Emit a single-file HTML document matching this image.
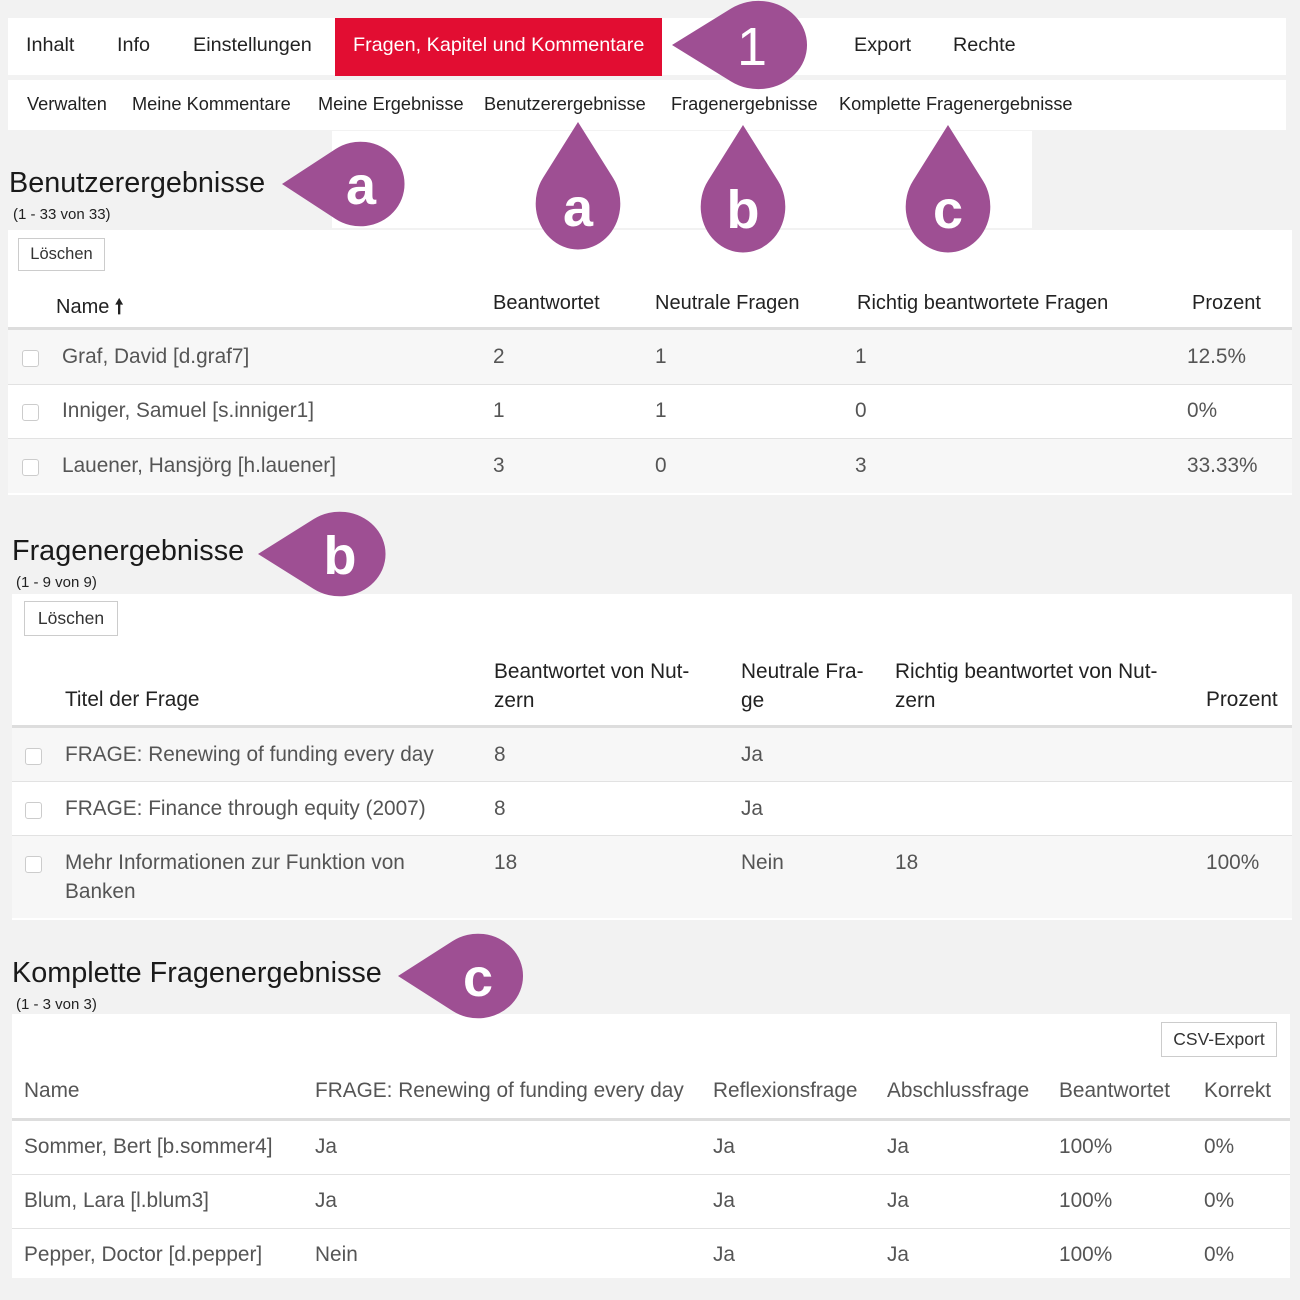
<!DOCTYPE html>
<html><head><meta charset="utf-8"><style>
body{margin:0;width:1300px;height:1300px;background:#f2f2f2;position:relative;overflow:hidden;font-family:"Liberation Sans",sans-serif;color:#222}
.a{position:absolute;white-space:nowrap}
.w{position:absolute;background:#fff}
.n{font-size:19.8px;color:#222}
.s{font-size:18.2px;color:#222}
.h{font-size:28.8px;color:#1a1a1a}
.c{font-size:15px;color:#222}
.th{font-size:20px;color:#222}
.td{font-size:20.8px;color:#555}
.btn{position:absolute;border:1px solid #ccc;background:#fff;font-size:16.5px;color:#333;box-sizing:border-box;text-align:center}
.cb{position:absolute;width:15px;height:15px;border:1px solid #ccc;border-radius:3px;background:#fff}
.l{position:absolute;height:1px;background:#e2e2e2}
.hl{position:absolute;height:3px;background:#ddd}
</style></head><body>
<div class="w" style="left:8px;top:18px;width:1278px;height:57px"></div>
<div class="a" style="left:335px;top:18px;width:327px;height:58px;background:#e20d32"></div>
<div class="a n" style="left:26px;top:34px">Inhalt</div>
<div class="a n" style="left:117px;top:34px">Info</div>
<div class="a n" style="left:193px;top:34px">Einstellungen</div>
<div class="a n" style="left:353px;top:34px;color:#fff">Fragen, Kapitel und Kommentare</div>
<div class="a n" style="left:795px;top:34px">tt</div>
<div class="a n" style="left:854px;top:34px">Export</div>
<div class="a n" style="left:953px;top:34px">Rechte</div>
<div class="w" style="left:8px;top:80px;width:1278px;height:50px"></div>
<div class="a s" style="left:27px;top:94px">Verwalten</div>
<div class="a s" style="left:132px;top:94px">Meine Kommentare</div>
<div class="a s" style="left:318px;top:94px">Meine Ergebnisse</div>
<div class="a s" style="left:484px;top:94px">Benutzerergebnisse</div>
<div class="a s" style="left:671px;top:94px">Fragenergebnisse</div>
<div class="a s" style="left:839px;top:94px">Komplette Fragenergebnisse</div>
<div class="w" style="left:332px;top:131px;width:700px;height:97px"></div>

<!-- Section 1 -->
<div class="a h" style="left:9px;top:167px">Benutzerergebnisse</div>
<div class="a c" style="left:13px;top:206px">(1 - 33 von 33)</div>
<div class="w" style="left:8px;top:230px;width:1284px;height:265px"></div>
<div class="btn" style="left:18px;top:238px;width:87px;height:33px;line-height:31px">Löschen</div>
<div class="a th" style="left:56px;top:292px">Name <b>🠕</b></div>
<div class="a th" style="left:493px;top:292px">Beantwortet</div>
<div class="a th" style="left:655px;top:292px">Neutrale Fragen</div>
<div class="a th" style="left:857px;top:292px">Richtig beantwortete Fragen</div>
<div class="a th" style="left:1192px;top:292px">Prozent</div>
<div class="hl" style="left:8px;top:327px;width:1284px"></div>
<div class="a" style="left:8px;top:330px;width:1284px;height:55px;background:#f7f7f7"></div>
<div class="l" style="left:8px;top:384px;width:1284px"></div>
<div class="l" style="left:8px;top:438px;width:1284px"></div>
<div class="a" style="left:8px;top:439px;width:1284px;height:54px;background:#f7f7f7"></div>
<div class="cb" style="left:22px;top:350px"></div><div class="cb" style="left:22px;top:404px"></div><div class="cb" style="left:22px;top:459px"></div>
<div class="a td" style="left:62px;top:345px">Graf, David [d.graf7]</div><div class="a td" style="left:493px;top:345px">2</div><div class="a td" style="left:655px;top:345px">1</div><div class="a td" style="left:855px;top:345px">1</div><div class="a td" style="left:1187px;top:345px">12.5%</div>
<div class="a td" style="left:62px;top:399px">Inniger, Samuel [s.inniger1]</div><div class="a td" style="left:493px;top:399px">1</div><div class="a td" style="left:655px;top:399px">1</div><div class="a td" style="left:855px;top:399px">0</div><div class="a td" style="left:1187px;top:399px">0%</div>
<div class="a td" style="left:62px;top:454px">Lauener, Hansjörg [h.lauener]</div><div class="a td" style="left:493px;top:454px">3</div><div class="a td" style="left:655px;top:454px">0</div><div class="a td" style="left:855px;top:454px">3</div><div class="a td" style="left:1187px;top:454px">33.33%</div>

<!-- Section 2 -->
<div class="a h" style="left:12px;top:535px">Fragenergebnisse</div>
<div class="a c" style="left:16px;top:574px">(1 - 9 von 9)</div>
<div class="w" style="left:12px;top:594px;width:1280px;height:326px"></div>
<div class="btn" style="left:24px;top:601px;width:94px;height:35px;line-height:33px;font-size:17.5px">Löschen</div>
<div class="a th" style="left:65px;top:688px;font-size:20.8px">Titel der Frage</div>
<div class="a th" style="left:494px;top:657px;line-height:29px;font-size:20.8px">Beantwortet von Nut-<br>zern</div>
<div class="a th" style="left:741px;top:657px;line-height:29px;font-size:20.8px">Neutrale Fra-<br>ge</div>
<div class="a th" style="left:895px;top:657px;line-height:29px;font-size:20.8px">Richtig beantwortet von Nut-<br>zern</div>
<div class="a th" style="left:1206px;top:688px;font-size:20.8px">Prozent</div>
<div class="hl" style="left:12px;top:725px;width:1280px"></div>
<div class="a" style="left:12px;top:728px;width:1280px;height:54px;background:#f7f7f7"></div>
<div class="l" style="left:12px;top:781px;width:1280px"></div>
<div class="l" style="left:12px;top:835px;width:1280px"></div>
<div class="a" style="left:12px;top:836px;width:1280px;height:82px;background:#f7f7f7"></div>
<div class="cb" style="left:25px;top:748px"></div><div class="cb" style="left:25px;top:802px"></div><div class="cb" style="left:25px;top:856px"></div>
<div class="a td" style="left:65px;top:743px">FRAGE: Renewing of funding every day</div><div class="a td" style="left:494px;top:743px">8</div><div class="a td" style="left:741px;top:743px">Ja</div>
<div class="a td" style="left:65px;top:797px">FRAGE: Finance through equity (2007)</div><div class="a td" style="left:494px;top:797px">8</div><div class="a td" style="left:741px;top:797px">Ja</div>
<div class="a td" style="left:65px;line-height:29px;top:848px">Mehr Informationen zur Funktion von<br>Banken</div><div class="a td" style="left:494px;top:851px">18</div><div class="a td" style="left:741px;top:851px">Nein</div><div class="a td" style="left:895px;top:851px">18</div><div class="a td" style="left:1206px;top:851px">100%</div>

<!-- Section 3 -->
<div class="a h" style="left:12px;top:957px">Komplette Fragenergebnisse</div>
<div class="a c" style="left:16px;top:996px">(1 - 3 von 3)</div>
<div class="w" style="left:12px;top:1014px;width:1278px;height:264px"></div>
<div class="btn" style="left:1161px;top:1022px;width:116px;height:35px;line-height:33px;font-size:17.5px">CSV-Export</div>
<div class="a td" style="left:24px;top:1079px">Name</div>
<div class="a td" style="left:315px;top:1079px">FRAGE: Renewing of funding every day</div>
<div class="a td" style="left:713px;top:1079px">Reflexionsfrage</div>
<div class="a td" style="left:887px;top:1079px">Abschlussfrage</div>
<div class="a td" style="left:1059px;top:1079px">Beantwortet</div>
<div class="a td" style="left:1204px;top:1079px">Korrekt</div>
<div class="hl" style="left:12px;top:1118px;width:1278px"></div>
<div class="l" style="left:12px;top:1174px;width:1278px"></div>
<div class="l" style="left:12px;top:1228px;width:1278px"></div>
<div class="a td" style="left:24px;top:1135px">Sommer, Bert [b.sommer4]</div><div class="a td" style="left:315px;top:1135px">Ja</div><div class="a td" style="left:713px;top:1135px">Ja</div><div class="a td" style="left:887px;top:1135px">Ja</div><div class="a td" style="left:1059px;top:1135px">100%</div><div class="a td" style="left:1204px;top:1135px">0%</div>
<div class="a td" style="left:24px;top:1189px">Blum, Lara [l.blum3]</div><div class="a td" style="left:315px;top:1189px">Ja</div><div class="a td" style="left:713px;top:1189px">Ja</div><div class="a td" style="left:887px;top:1189px">Ja</div><div class="a td" style="left:1059px;top:1189px">100%</div><div class="a td" style="left:1204px;top:1189px">0%</div>
<div class="a td" style="left:24px;top:1243px">Pepper, Doctor [d.pepper]</div><div class="a td" style="left:315px;top:1243px">Nein</div><div class="a td" style="left:713px;top:1243px">Ja</div><div class="a td" style="left:887px;top:1243px">Ja</div><div class="a td" style="left:1059px;top:1243px">100%</div><div class="a td" style="left:1204px;top:1243px">0%</div>

<svg width="1300" height="1300" style="position:absolute;left:0;top:0" font-family="Liberation Sans, sans-serif" font-weight="bold">
<defs><path id="t" d="M0,0 L54.7,-37.2 A45 45 0 1 1 54.7,37.2 Z" fill="#9e4f93"/></defs>
<g transform="translate(672,45) scale(1.08,0.98)"><use href="#t"/></g>
<text x="752" y="65" font-size="54" fill="#fff" text-anchor="middle" font-weight="normal">1</text>
<g transform="translate(282,184) scale(0.98,0.94)"><use href="#t"/></g>
<text x="361" y="204" font-size="54" fill="#fff" text-anchor="middle">a</text>
<g transform="translate(578,122) rotate(90) scale(1.02,0.94)"><use href="#t"/></g>
<text x="578" y="226" font-size="54" fill="#fff" text-anchor="middle">a</text>
<g transform="translate(743,125) rotate(90) scale(1.02,0.94)"><use href="#t"/></g>
<text x="743" y="228" font-size="54" fill="#fff" text-anchor="middle">b</text>
<g transform="translate(948,125) rotate(90) scale(1.02,0.94)"><use href="#t"/></g>
<text x="948" y="228" font-size="54" fill="#fff" text-anchor="middle">c</text>
<g transform="translate(258,554) scale(1.02,0.94)"><use href="#t"/></g>
<text x="340" y="574" font-size="54" fill="#fff" text-anchor="middle">b</text>
<g transform="translate(398,976) scale(1.0,0.94)"><use href="#t"/></g>
<text x="478" y="996" font-size="54" fill="#fff" text-anchor="middle">c</text>
</svg>
</body></html>
